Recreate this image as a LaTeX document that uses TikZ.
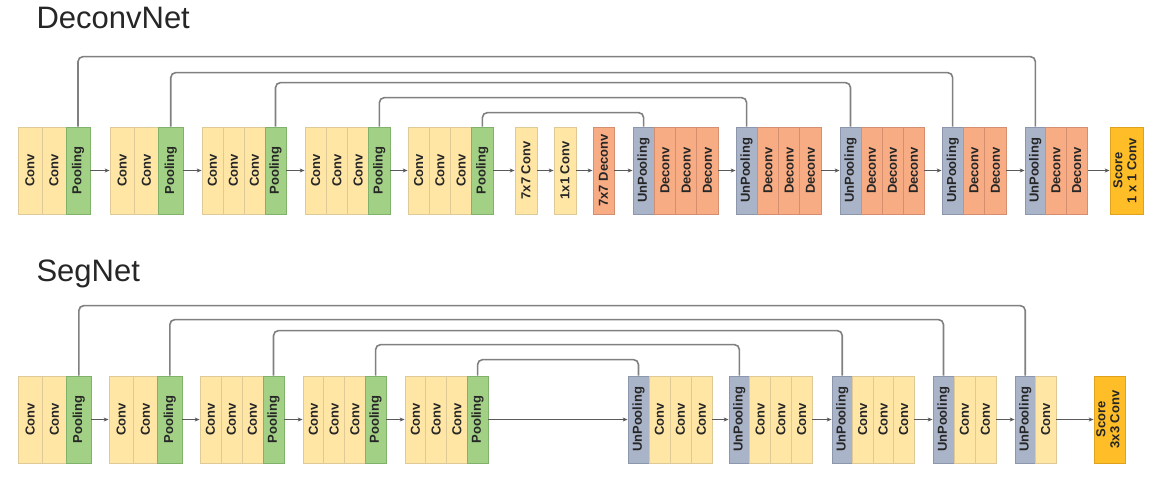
\documentclass[tikz,border=0pt]{standalone}
\usepackage{fontspec}
\setmainfont{Liberation Sans}
\usepackage{xcolor}
\usepackage{tikz}
\usetikzlibrary{positioning,arrows.meta}

\definecolor{convfill}{RGB}{255,230,165}
\definecolor{convline}{RGB}{222,202,150}
\definecolor{poolfill}{RGB}{162,208,132}
\definecolor{poolline}{RGB}{128,178,108}
\definecolor{deconvfill}{RGB}{248,172,132}
\definecolor{deconvline}{RGB}{212,142,112}
\definecolor{unpoolfill}{RGB}{170,180,200}
\definecolor{unpoolline}{RGB}{140,150,172}
\definecolor{scorefill}{RGB}{255,190,40}
\definecolor{scoreline}{RGB}{222,162,30}

\begin{document}
\begin{tikzpicture}[x=1pt, y=-1pt,
        block/.style={rectangle, minimum height=87pt, inner sep=0pt, line width=0.8pt, text=black!85, font=\bfseries\fontsize{13}{14}\selectfont},
        conv/.style={block, fill=convfill, draw=convline},
        pool/.style={block, fill=poolfill, draw=poolline},
        deconv/.style={block, fill=deconvfill, draw=deconvline},
        unpool/.style={block, fill=unpoolfill, draw=unpoolline},
        score/.style={block, fill=scorefill, draw=scoreline},
        arrow/.style={-{Stealth[length=5pt, width=4pt]}, draw=black!65, line width=1pt},
        skipline/.style={draw=black!50, line width=1.6pt, rounded corners=5pt},
        title/.style={anchor=base west, text=black!85, font=\fontsize{31}{35}\selectfont}
    ]
    \useasboundingbox (0,0) rectangle (1155,484);

    % Titles
    \node[title] (deconvtitle) at (33,29) {DeconvNet};
    \node[title] (segtitle) at (33,281) {SegNet};

    % DeconvNet encoder
    \foreach \g/\x/\w/\n in {1/18/24/2, 2/110/24.3/2, 3/202/21/3, 4/305/21.25/3, 5/408/21.25/3} {
        \foreach \i in {1,...,\n}
            \node[conv, minimum width=\w] (dc\g\i) at (\x+\i*\w-\w/2, 170.5) {\rotatebox{90}{Conv}};
        \node[pool, minimum width=\w] (dp\g) at (\x+\n*\w+\w/2, 170.5) {\rotatebox{90}{Pooling}};
    }

    % Middle
    \node[conv, minimum width=22] (fc6) at (526, 170.5) {\rotatebox{90}{7x7 Conv}};
    \node[conv, minimum width=22] (fc7) at (565, 170.5) {\rotatebox{90}{1x1 Conv}};
    \node[deconv, minimum width=21] (dfc) at (603.5, 170.5) {\rotatebox{90}{7x7 Deconv}};

    % DeconvNet decoder
    \foreach \g/\x/\w/\n in {1/633/21.25/3, 2/736/21.25/3, 3/840/21/3, 4/942/21.33/2, 5/1025/20.7/2} {
        \node[unpool, minimum width=\w] (du\g) at (\x+\w/2, 170.5) {\rotatebox{90}{UnPooling}};
        \foreach \i in {1,...,\n}
            \node[deconv, minimum width=\w] (dd\g\i) at (\x+\i*\w+\w/2, 170.5) {\rotatebox{90}{Deconv}};
    }
    \node[score, minimum width=33] (dscore) at (1126.5, 170.5)
        {\rotatebox{90}{\begin{tabular}{@{}c@{}}Score\\1 x 1 Conv\end{tabular}}};

    % Arrows
    \foreach \p/\q in {dp1/dc21, dp2/dc31, dp3/dc41, dp4/dc51, dp5/fc6, fc6/fc7, fc7/dfc, dfc/du1, dd13/du2, dd23/du3, dd33/du4, dd42/du5, dd52/dscore}
        \draw[arrow] (\p) -- (\q);

    % Skip connections
    \foreach \p/\q/\h in {1/5/57, 2/4/73, 3/3/83, 4/2/98, 5/1/113}
        \draw[skipline] (dp\p.north) -- ++(0,\h-127) -| (du\q.north);

    % SegNet encoder
    \foreach \g/\x/\w/\n in {1/18/24.33/2, 2/109/24.33/2, 3/200/21/3, 4/303/20.75/3, 5/405/20.75/3} {
        \foreach \i in {1,...,\n}
            \node[conv, minimum width=\w] (sc\g\i) at (\x+\i*\w-\w/2, 419.5) {\rotatebox{90}{Conv}};
        \node[pool, minimum width=\w] (sp\g) at (\x+\n*\w+\w/2, 419.5) {\rotatebox{90}{Pooling}};
    }

    % SegNet decoder
    \foreach \g/\x/\w/\n in {1/628/21/3, 2/729/20.75/3, 3/832/20.5/3, 4/933/21/2, 5/1015/20.5/1} {
        \node[unpool, minimum width=\w] (su\g) at (\x+\w/2, 419.5) {\rotatebox{90}{UnPooling}};
        \foreach \i in {1,...,\n}
            \node[conv, minimum width=\w] (sd\g\i) at (\x+\i*\w+\w/2, 419.5) {\rotatebox{90}{Conv}};
    }
    \node[score, minimum width=31] (sscore) at (1109.5, 419.5)
        {\rotatebox{90}{\begin{tabular}{@{}c@{}}Score\\3x3 Conv\end{tabular}}};

    % Arrows
    \foreach \p/\q in {sp1/sc21, sp2/sc31, sp3/sc41, sp4/sc51, sp5/su1, sd13/su2, sd23/su3, sd33/su4, sd42/su5, sd51/sscore}
        \draw[arrow] (\p) -- (\q);

    % Skip connections
    \foreach \p/\q/\h in {1/5/306, 2/4/320, 3/3/331, 4/2/345, 5/1/360}
        \draw[skipline] (sp\p.north) -- ++(0,\h-376) -| (su\q.north);
\end{tikzpicture}
\end{document}
